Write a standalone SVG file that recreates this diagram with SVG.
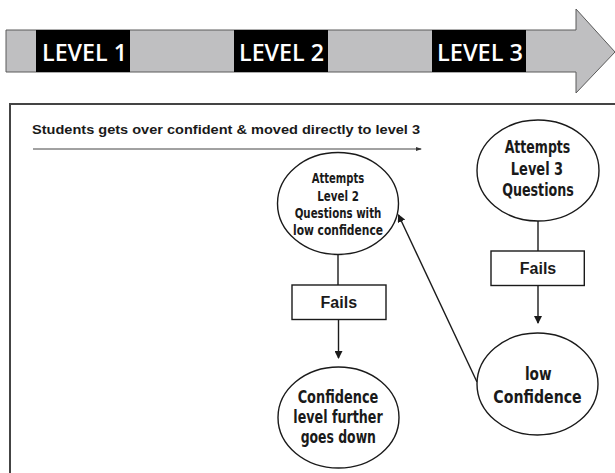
<svg xmlns="http://www.w3.org/2000/svg" width="615" height="473" viewBox="0 0 615 473">
<style>
.lvl{fill:#fff;font-family:"Open Sans","Liberation Sans",sans-serif;font-weight:600;font-size:24px}
.cond{font-family:"Liberation Sans Narrow","DejaVu Sans Condensed","Liberation Sans",sans-serif;font-weight:bold;fill:#1a1a1a;text-anchor:middle}
.fails{font-family:"Liberation Sans",Arial,sans-serif;font-weight:bold;font-size:16px;fill:#1a1a1a;text-anchor:middle}
.node{fill:#fff;stroke:#1a1a1a;stroke-width:1.4}
.conn{stroke:#1a1a1a;stroke-width:1.4;fill:none}
</style>
<defs>
<marker id="ah" markerWidth="8" markerHeight="8" refX="7" refY="4" orient="auto" markerUnits="userSpaceOnUse">
<path d="M0,0 L8,4 L0,8 Z" fill="#1a1a1a"/>
</marker>
<marker id="ahs" markerWidth="6" markerHeight="6" refX="5" refY="3" orient="auto" markerUnits="userSpaceOnUse">
<path d="M0,1 L6,3 L0,5 Z" fill="#333"/>
</marker>
</defs>
<rect width="615" height="473" fill="#fff"/>
<g id="timeline">
<polygon points="6,30 576,30 576,9 615,52 576,93 576,72 6,72" fill="#bfbfc1" stroke="#5a5a5a" stroke-width="1"/>
<rect x="36" y="30" width="94" height="42" fill="#000"/>
<rect x="234" y="30" width="94" height="42" fill="#000"/>
<rect x="432" y="30" width="94" height="42" fill="#000"/>
<text class="lvl" x="42" y="61" textLength="85" lengthAdjust="spacingAndGlyphs">LEVEL 1</text>
<text class="lvl" x="239" y="61" textLength="85" lengthAdjust="spacingAndGlyphs">LEVEL 2</text>
<text class="lvl" x="437" y="61" textLength="86" lengthAdjust="spacingAndGlyphs">LEVEL 3</text>
</g>
<g id="frame">
<rect x="10" y="104" width="620" height="380" fill="none" stroke="#444" stroke-width="2"/>
<text x="32" y="134" font-family="Liberation Sans, Arial, sans-serif" font-weight="bold" font-size="13.5" fill="#1a1a1a" textLength="388" lengthAdjust="spacingAndGlyphs">Students gets over confident &amp; moved directly to level 3</text>
</g>
<g id="connectors">
<line x1="33" y1="149" x2="421" y2="149" stroke="#444" stroke-width="1" marker-end="url(#ahs)"/>
<line class="conn" x1="338" y1="254" x2="338" y2="285"/>
<line class="conn" x1="338.5" y1="319.5" x2="338.5" y2="358" marker-end="url(#ah)"/>
<line class="conn" x1="538" y1="221" x2="538" y2="251"/>
<line class="conn" x1="538" y1="285.5" x2="538" y2="323" marker-end="url(#ah)"/>
<line class="conn" x1="477" y1="382" x2="398.5" y2="215" marker-end="url(#ah)"/>
</g>
<g id="node-l2">
<ellipse class="node" cx="338" cy="203.5" rx="60.5" ry="51"/>
<text class="cond" font-size="14.5" x="338" y="183.3" textLength="52.7" lengthAdjust="spacingAndGlyphs">Attempts</text>
<text class="cond" font-size="14.5" x="338" y="200.7" textLength="41.7" lengthAdjust="spacingAndGlyphs">Level 2</text>
<text class="cond" font-size="14.5" x="338" y="218.3" textLength="86.7" lengthAdjust="spacingAndGlyphs">Questions with</text>
<text class="cond" font-size="14.5" x="338" y="235" textLength="90" lengthAdjust="spacingAndGlyphs">low confidence</text>
</g>
<g id="node-fails-l2">
<rect class="node" x="292" y="285" width="94" height="34.5"/>
<text class="fails" x="338.8" y="308.3">Fails</text>
</g>
<g id="node-down">
<ellipse class="node" cx="338.5" cy="417.5" rx="60.5" ry="50.5"/>
<text class="cond" font-size="18.5" x="338" y="402.7" textLength="80.7" lengthAdjust="spacingAndGlyphs">Confidence</text>
<text class="cond" font-size="18.5" x="338" y="423.3" textLength="89.3" lengthAdjust="spacingAndGlyphs">level further</text>
<text class="cond" font-size="18.5" x="338.3" y="443.3" textLength="75.3" lengthAdjust="spacingAndGlyphs">goes down</text>
</g>
<g id="node-l3">
<ellipse class="node" cx="538" cy="170.5" rx="61" ry="50.5"/>
<text class="cond" font-size="17.5" x="537.5" y="153.3" textLength="65.7" lengthAdjust="spacingAndGlyphs">Attempts</text>
<text class="cond" font-size="17.5" x="537" y="175" textLength="52.3" lengthAdjust="spacingAndGlyphs">Level 3</text>
<text class="cond" font-size="17.5" x="538" y="196" textLength="71.7" lengthAdjust="spacingAndGlyphs">Questions</text>
</g>
<g id="node-fails-l3">
<rect class="node" x="491" y="251" width="93.3" height="34.5"/>
<text class="fails" x="538" y="274">Fails</text>
</g>
<g id="node-low">
<ellipse class="node" cx="537.5" cy="384" rx="60.5" ry="51"/>
<text class="cond" font-size="18.5" x="538.3" y="380" textLength="26.7" lengthAdjust="spacingAndGlyphs">low</text>
<text class="cond" font-size="18.5" x="537.5" y="402.7" textLength="88.3" lengthAdjust="spacingAndGlyphs">Confidence</text>
</g>
</svg>
